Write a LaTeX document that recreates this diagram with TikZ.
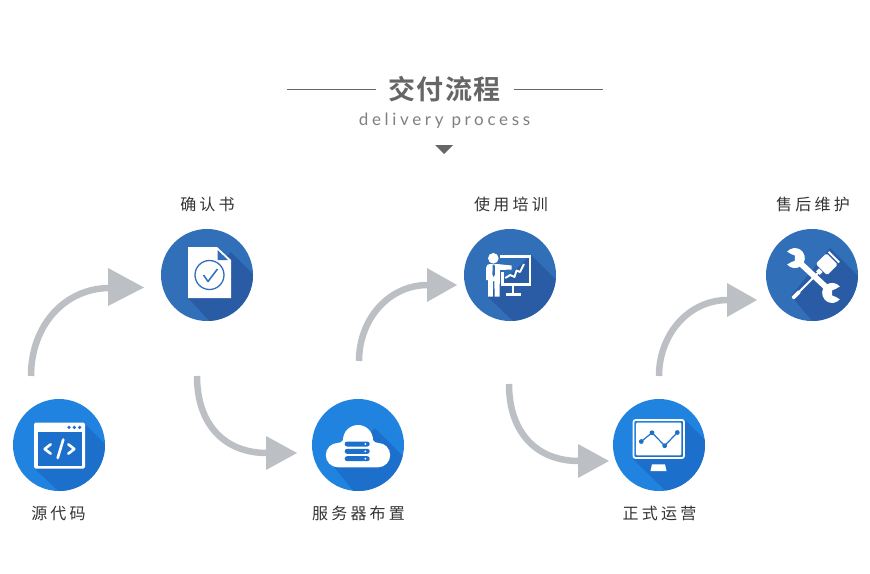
\documentclass[tikz,border=0pt]{standalone}
\usepackage{fontspec}
\newfontfamily\cjktitle[LetterSpace=6]{Noto Sans CJK SC Bold}
\newfontfamily\cjklabel[LetterSpace=20]{Noto Sans CJK SC}
\newfontfamily\latinsub[LetterSpace=21.5]{Lato}
\definecolor{skyblue}{HTML}{2183E0}
\definecolor{skyshade}{HTML}{1C70CB}
\definecolor{steelblue}{HTML}{316FB9}
\definecolor{steelshade}{HTML}{2A5CA6}
\definecolor{flowgrey}{HTML}{BCC0C4}
\definecolor{headgrey}{HTML}{666666}
\tikzset{
  stagesky/.style={circle,fill=skyblue,minimum size=92pt,inner sep=0pt},
  stagesteel/.style={circle,fill=steelblue,minimum size=92pt,inner sep=0pt},
  steplabel/.style={font=\cjklabel\fontsize{16}{16}\selectfont,text=black!80,inner sep=0pt},
  flowline/.style={draw=flowgrey,line width=6.5pt},
  flowhead/.style={fill=flowgrey},
  rule/.style={draw=headgrey,line width=0.8pt},
  iconline/.style={draw=white,line width=2.6pt,line cap=round,line join=round},
  jaw/.pic={\fill[white] (140:10) arc[start angle=140,end angle=-140,radius=10]
    -- (-3.5,-4) -- (0,-2.6) -- (0,2.6) -- (-3.5,4) -- cycle;},
}
% Clipped long shadow of an icon, given as a closed outline
\newcommand{\longshade}[3]{\begin{scope}\clip (#1) circle[radius=46];\fill[#2] #3;\end{scope}}
\begin{document}
\begin{tikzpicture}[x=1pt,y=-1pt]
\useasboundingbox (0,0) rectangle (870,573);
\fill[white] (0,0) rectangle (870,573);

% heading
\node[font=\cjktitle\fontsize{27}{27}\selectfont,text=headgrey,inner sep=0pt] (title) at (444.5,89) {交付流程};
\node[font=\latinsub\fontsize{17}{17}\selectfont,text=black!50,inner sep=0pt] (subtitle) at (444.5,120.5) {delivery process};
\coordinate (ruleLa) at (287,89.5); \coordinate (ruleLb) at (376,89.5);
\coordinate (ruleRa) at (514,89.5); \coordinate (ruleRb) at (603,89.5);
\draw[rule] (ruleLa) -- (ruleLb);
\draw[rule] (ruleRa) -- (ruleRb);
\coordinate (markA) at (435,145); \coordinate (markB) at (453,145); \coordinate (markC) at (444,154);
\fill[headgrey] (markA) -- (markB) -- (markC) -- cycle;

% stage discs
\node[stagesky]   (source)  at (59,445)  {};
\node[stagesteel] (confirm) at (207,275) {};
\node[stagesky]   (server)  at (358,445) {};
\node[stagesteel] (train)   at (510,275) {};
\node[stagesky]   (live)    at (659,445) {};
\node[stagesteel] (care)    at (812,275) {};

% stage captions
\node[steplabel] (lsource)  at (58.5,513.5)  {源代码};
\node[steplabel] (lconfirm) at (207.5,204) {确认书};
\node[steplabel] (lserver)  at (358.5,513) {服务器布置};
\node[steplabel] (ltrain)   at (511,204) {使用培训};
\node[steplabel] (llive)    at (659.5,513) {正式运营};
\node[steplabel] (lcare)    at (813,204) {售后维护};

% curved flow arrows between stages
\coordinate (f1a) at (31,376);  \coordinate (f1b) at (110,288);
\coordinate (f2a) at (197,376); \coordinate (f2b) at (267,453);
\coordinate (f3a) at (359,361); \coordinate (f3b) at (428,285);
\coordinate (f4a) at (509,384); \coordinate (f4b) at (579,461);
\coordinate (f5a) at (659,376); \coordinate (f5b) at (728,300);
\draw[flowline] (f1a) .. controls (31,325) and (65,288) .. (f1b);
\draw[flowline] (f2a) .. controls (197,425) and (225,453) .. (f2b);
\draw[flowline] (f3a) .. controls (359,320) and (388,285) .. (f3b);
\draw[flowline] (f4a) .. controls (509,433) and (537,461) .. (f4b);
\draw[flowline] (f5a) .. controls (659,335) and (688,300) .. (f5b);
\fill[flowhead] (108,268) -- (144,287.5) -- (108,306) -- cycle;
\fill[flowhead] (266,436) -- (297,453) -- (266,470) -- cycle;
\fill[flowhead] (427,268) -- (457,285) -- (427,302) -- cycle;
\fill[flowhead] (578,444) -- (609,461) -- (578,478) -- cycle;
\fill[flowhead] (727,283) -- (757,300) -- (727,317) -- cycle;

% code window
\longshade{source}{skyshade}{(85,424) -- (130,469) -- (84,515) -- (34,468) -- cycle}
\fill[white,rounded corners=1.5pt] (34,422.5) rectangle (85,468.5);
\fill[skyshade] (37.5,431.7) rectangle (82,465.5);
\foreach \dx in {69,74.3,79.7} \fill[skyshade] (\dx,427.4) circle[radius=1.8];
\draw[iconline] (50.7,444.3) -- (44.7,449) -- (50.7,453.7);
\draw[iconline] (63.3,439.5) -- (57.7,458);
\draw[iconline] (68.3,444.3) -- (74.3,449) -- (68.3,453.7);

% document with check mark
\longshade{confirm}{steelshade}{(231,252) -- (276,297) -- (230,343) -- (188,298) -- cycle}
\fill[white] (188,247) -- (217,247) -- (231,260) -- (231,298) -- (188,298) -- cycle;
\fill[steelblue] (217.5,250) -- (228,260) -- (217.5,260) -- cycle;
\draw[steelblue,line width=1.3pt] (209.5,275) circle[radius=14.5];
\draw[steelblue,line width=1.5pt,line join=round] (203.5,275) -- (208,281.5) -- (217.5,269);

% cloud with server racks
\longshade{server}{skyshade}{(375,428) -- (420,473) -- (375,518) -- (334,467) -- cycle}
\fill[white] (338,467.3) arc[start angle=90,end angle=270,radius=12.2]
  .. controls (340,442.9) and (342,442) .. (343,440)
  arc[start angle=180,end angle=360,radius=15]
  .. controls (374,442) and (376,442.8) .. (378,442.9)
  arc[start angle=-90,end angle=90,radius=12.2] -- cycle;
\foreach \ry in {444,451.3,458.7}{
  \fill[skyshade,rounded corners=2.4pt] (344.7,\ry-2.5) rectangle (369.7,\ry+2.5);
  \fill[white] (365.3,\ry) circle[radius=1];
}

% presenter and chart board
\longshade{train}{steelshade}{(531,255) -- (576,300) -- (535,342) -- (487,296) -- cycle}
\draw[white,line width=2.4pt] (500,256.5) -- (530,256.5) -- (530,284.3) -- (502.5,284.3) -- (502.5,272);
\fill[white] (511.5,285) rectangle (514,294);
\fill[white] (505.5,293) rectangle (520.5,296);
\fill[white] (493.3,258.3) circle[radius=5.3];
\fill[white] (486,268) .. controls (486,265) and (488,264) .. (490,264)
  -- (497,264) -- (511.5,265.5) -- (511.5,269.5) -- (500,270) -- (499.5,296.7)
  -- (494.7,296.7) -- (494.3,281) -- (493,281) -- (492.8,296.7) -- (488,296.7) -- (488,280) -- (486,280) -- cycle;
\fill[steelblue] (492.7,264.7) -- (494.7,264.7) -- (495,274.5) -- (493.7,277) -- (492.4,274.5) -- cycle;
\draw[white,line width=1.9pt,line join=round] (505.3,278) -- (510.3,275) -- (514.5,277) -- (516.5,270.5) -- (520,272) -- (524,264);

% spanner crossed with screwdriver
\longshade{care}{steelshade}{(830,248) -- (876,294) -- (830,342) -- (791,296) -- cycle}
\begin{scope}[shift={(813.5,275.5)},rotate=-43]
  \fill[white] (-23,-2.9) rectangle (23,2.9);
  \pic at (-25.5,0) {jaw};
  \pic[rotate=180] at (25.5,0) {jaw};
\end{scope}
\begin{scope}[shift={(792.5,298.5)},rotate=45]
  \fill[white,rounded corners=0.8pt] (0,-1.8) rectangle (10,1.8);
  \fill[white] (8,-1) rectangle (38,1);
  \fill[white] (36,-2.6) rectangle (40,2.6);
  \fill[white,rounded corners=1.5pt] (41,-8) rectangle (56,8);
  \fill[white] (57.5,-7.5) rectangle (59.5,7.5);
\end{scope}

% monitor with trend line
\longshade{live}{skyshade}{(685,420) -- (730,465) -- (685,510) -- (633,459) -- cycle}
\draw[white,line width=1.7pt,rounded corners=2pt] (633.5,420) rectangle (684,458);
\fill[white,rounded corners=1pt] (636.2,422.7) rectangle (681.3,455.3);
\fill[white] (652,464.3) -- (665,464.3) -- (666.5,471) -- (650.5,471) -- cycle;
\draw[skyshade,line width=1.2pt] (641.3,441.5) -- (652,432.7) -- (664.7,445.7) -- (677.3,432.5);
\foreach \px/\py in {641.3/441.5,652/432.7,664.7/445.7,677.3/432.5}
  \fill[skyshade] (\px,\py) circle[radius=2.4];
\end{tikzpicture}
\end{document}
